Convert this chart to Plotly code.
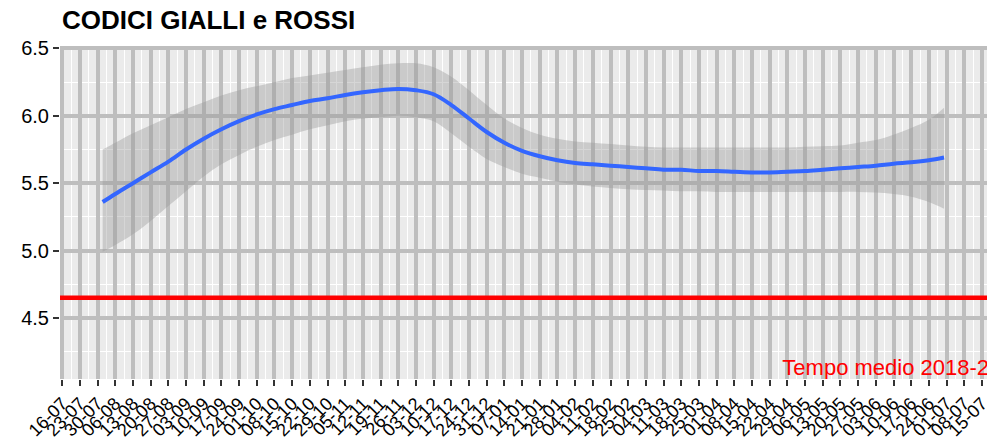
import plotly.graph_objects as go
import pandas as pd

# Weekly axis ticks (Thursdays, July 2020 - July 2021)
tick_dates = [
    "2020-07-16", "2020-07-23", "2020-07-30", "2020-08-06", "2020-08-13", "2020-08-20",
    "2020-08-27", "2020-09-03", "2020-09-10", "2020-09-17", "2020-09-24", "2020-10-01",
    "2020-10-08", "2020-10-15", "2020-10-22", "2020-10-29", "2020-11-05", "2020-11-12",
    "2020-11-19", "2020-11-26", "2020-12-03", "2020-12-10", "2020-12-17", "2020-12-24",
    "2020-12-31", "2021-01-07", "2021-01-14", "2021-01-21", "2021-01-28", "2021-02-04",
    "2021-02-11", "2021-02-18", "2021-02-25", "2021-03-04", "2021-03-11", "2021-03-18",
    "2021-03-25", "2021-04-01", "2021-04-08", "2021-04-15", "2021-04-22", "2021-04-29",
    "2021-05-06", "2021-05-13", "2021-05-20", "2021-05-27", "2021-06-03", "2021-06-10",
    "2021-06-17", "2021-06-24", "2021-07-01", "2021-07-08", "2021-07-15",
]
tick_labels = [
    "16-07", "23-07", "30-07", "06-08", "13-08", "20-08", "27-08", "03-09", "10-09",
    "17-09", "24-09", "01-10", "08-10", "15-10", "22-10", "29-10", "05-11", "12-11",
    "19-11", "26-11", "03-12", "10-12", "17-12", "24-12", "31-12", "07-01", "14-01",
    "21-01", "28-01", "04-02", "11-02", "18-02", "25-02", "04-03", "11-03", "18-03",
    "25-03", "01-04", "08-04", "15-04", "22-04", "29-04", "06-05", "13-05", "20-05",
    "27-05", "03-06", "10-06", "17-06", "24-06", "01-07", "08-07", "15-07",
]

# Smoothed waiting time (loess fit) with its confidence band
smooth_dates = [
    "2020-08-01", "2020-08-06", "2020-08-13", "2020-08-20", "2020-08-27",
    "2020-09-03", "2020-09-10", "2020-09-17", "2020-09-24",
    "2020-10-01", "2020-10-08", "2020-10-15", "2020-10-22", "2020-10-29",
    "2020-11-05", "2020-11-12", "2020-11-19", "2020-11-26",
    "2020-12-03", "2020-12-10", "2020-12-17", "2020-12-24", "2020-12-31",
    "2021-01-07", "2021-01-14", "2021-01-21", "2021-01-28",
    "2021-02-04", "2021-02-11", "2021-02-18", "2021-02-25",
    "2021-03-04", "2021-03-11", "2021-03-18", "2021-03-25",
    "2021-04-01", "2021-04-08", "2021-04-15", "2021-04-22", "2021-04-29",
    "2021-05-06", "2021-05-13", "2021-05-20", "2021-05-27",
    "2021-06-03", "2021-06-10", "2021-06-17", "2021-06-24", "2021-06-30",
]
smooth_fit = [
    5.36, 5.42, 5.50, 5.58, 5.66,
    5.75, 5.83, 5.90, 5.96,
    6.01, 6.05, 6.08, 6.11, 6.13,
    6.155, 6.175, 6.19, 6.20,
    6.19, 6.16, 6.08, 5.98, 5.88,
    5.80, 5.74, 5.70, 5.67,
    5.65, 5.64, 5.63, 5.62,
    5.61, 5.60, 5.60, 5.59,
    5.59, 5.585, 5.58, 5.58, 5.585,
    5.59, 5.60, 5.61, 5.62,
    5.63, 5.645, 5.655, 5.67, 5.69,
]
smooth_upper = [
    5.75, 5.80, 5.87, 5.93, 5.99,
    6.05, 6.10, 6.15, 6.19,
    6.22, 6.25, 6.28, 6.30, 6.32,
    6.34, 6.36, 6.38, 6.39,
    6.39, 6.36, 6.29, 6.19, 6.08,
    5.98, 5.91, 5.86, 5.83,
    5.81, 5.80, 5.79, 5.78,
    5.77, 5.765, 5.765, 5.765,
    5.765, 5.765, 5.765, 5.765, 5.765,
    5.77, 5.775, 5.78, 5.80,
    5.82, 5.86, 5.91, 5.97, 6.06,
]
smooth_lower = [
    4.99, 5.04, 5.12, 5.22, 5.33,
    5.44, 5.55, 5.64, 5.71,
    5.77, 5.82, 5.86, 5.90, 5.93,
    5.96, 5.98, 5.99, 6.00,
    5.99, 5.96, 5.87, 5.77, 5.68,
    5.62, 5.57, 5.54, 5.51,
    5.49, 5.475, 5.465, 5.455,
    5.45, 5.445, 5.44, 5.44,
    5.435, 5.435, 5.435, 5.435, 5.435,
    5.435, 5.435, 5.435, 5.435,
    5.43, 5.42, 5.40, 5.36, 5.31,
]

# Reference average (2018-2019)
reference_mean = 4.65
reference_label = "Tempo medio 2018-2019"
reference_label_x = "2021-04-27"
reference_label_y = 4.12

y_ticks = [4.5, 5.0, 5.5, 6.0, 6.5]
y_minor = [4.25, 4.75, 5.25, 5.75, 6.25]

fig = go.Figure()

# confidence band
fig.add_trace(go.Scatter(
    x=smooth_dates, y=smooth_upper, mode="lines", line=dict(width=0, shape="spline"),
    hoverinfo="skip", showlegend=False,
))
fig.add_trace(go.Scatter(
    x=smooth_dates, y=smooth_lower, mode="lines", line=dict(width=0, shape="spline"),
    fill="tonexty", fillcolor="rgba(153,153,153,0.4)", hoverinfo="skip", showlegend=False,
))
# smoothed line
fig.add_trace(go.Scatter(
    x=smooth_dates, y=smooth_fit, mode="lines",
    line=dict(color="#3366FF", width=4, shape="spline"), showlegend=False,
))
# reference level, spanning the whole panel
fig.add_hline(y=reference_mean, line=dict(color="#FF0000", width=4.5))
# its label, clipped at the panel edge
fig.add_trace(go.Scatter(
    x=[reference_label_x], y=[reference_label_y], mode="text", text=[reference_label],
    textposition="middle right", textfont=dict(color="#FF0000", size=22, family="Liberation Sans"),
    cliponaxis=True, showlegend=False, hoverinfo="skip",
))

fig.update_layout(
    width=1007, height=445,
    margin=dict(l=60, r=20, t=47, b=66),
    paper_bgcolor="white", plot_bgcolor="#EBEBEB",
    title=dict(
        text="<b>CODICI GIALLI e ROSSI</b>", x=62 / 1007, xanchor="left", xref="container",
        y=1 - 20 / 445, yanchor="middle", yref="container",
        font=dict(family="Liberation Sans", size=26, color="black"),
    ),
    font=dict(family="Liberation Sans", color="black"),
)

# white minor verticals halfway between the weekly ticks
tick_ts = pd.to_datetime(tick_dates)
mid_vals = [(tick_ts[i] + (tick_ts[i + 1] - tick_ts[i]) / 2).strftime("%Y-%m-%d %H:%M")
            for i in range(len(tick_ts) - 1)]

fig.update_xaxes(
    type="date", range=["2020-07-15 03:00", "2021-07-17 00:00"],
    tickmode="array", tickvals=tick_dates, ticktext=tick_labels, tickangle=-45,
    tickfont=dict(size=18, color="black"),
    ticks="outside", ticklen=6, tickwidth=2, tickcolor="#333333",
    showgrid=True, gridcolor="#BEBEBE", gridwidth=4,
    minor=dict(tickmode="array", tickvals=mid_vals, showgrid=True, gridcolor="white",
               gridwidth=1.2, ticks=""),
    zeroline=False, showline=False, automargin=False, fixedrange=True,
)
fig.update_yaxes(
    range=[4.046, 6.511], tickmode="array", tickvals=y_ticks, tickformat=".1f",
    tickfont=dict(size=20, color="black"),
    ticks="outside", ticklen=6, tickwidth=2, tickcolor="#333333",
    showgrid=True, gridcolor="#BEBEBE", gridwidth=4,
    minor=dict(tickmode="array", tickvals=y_minor, showgrid=True, gridcolor="white",
               gridwidth=1.2, ticks=""),
    zeroline=False, showline=False, automargin=False, fixedrange=True,
)

fig.write_html("out.html")
